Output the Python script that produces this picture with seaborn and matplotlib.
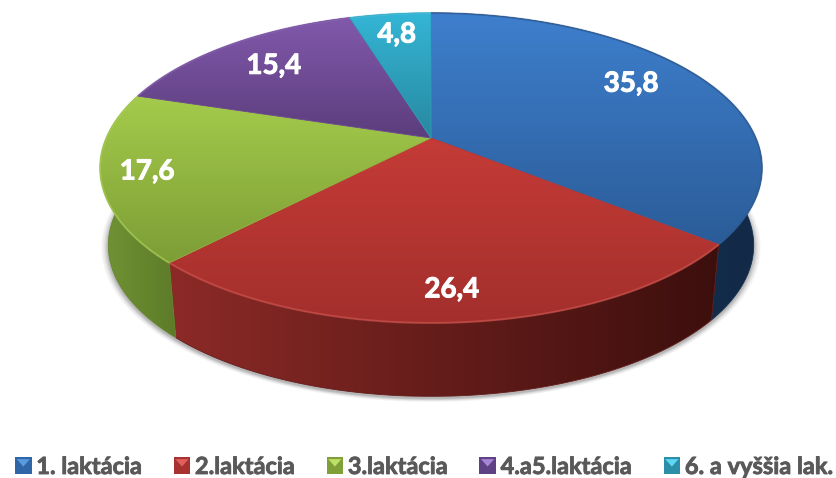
import matplotlib

matplotlib.use("Agg")
import matplotlib.patheffects as pe
import matplotlib.pyplot as plt
import numpy as np
import seaborn as sns
from matplotlib.legend_handler import HandlerPatch
from matplotlib.patches import Patch, Polygon

categories = ["1. laktácia", "2.laktácia", "3.laktácia", "4.a5.laktácia", "6. a vyššia lak."]
values = [35.8, 26.4, 17.6, 15.4, 4.8]
value_labels = ["35,8", "26,4", "17,6", "15,4", "4,8"]

# top face gradient (top, bottom), wall gradient (left, right), rim colour
top_colors = [("#3e7fcd", "#2b5c98"), ("#c53b37", "#a32f2c"), ("#a4cb4b", "#7d9d36"),
              ("#8259ac", "#5b3d7c"), ("#34b6d6", "#28889f")]
wall_colors = [("#16345a", "#122a47"), ("#8c2a27", "#3c0f0d"), ("#729434", "#5d7b29"),
               ("#4a3166", "#4a3166"), ("#1f6f85", "#1f6f85")]
rim_colors = ["#2a5488", "#d9625c", "#b5d964", "#9470bd", "#57c8e2"]
legend_colors = [("#2f66a8", "#5a9be0"), ("#a8322f", "#e0605c"), ("#7f9f38", "#bfe068"),
                 ("#5f4185", "#a884d4"), ("#2b8fa8", "#5fd8f5")]
label_radius = [0.77, 0.85, 0.865, 0.755, 0.81]
label_nudge = [-5, 0, 0, 0, 0]

CX, CY = 431, 138
SX, SY, PERSP = 324.7, 149.2, 0.1935
DEPTH, SHRINK = 78, 0.975


def project(theta, r=1.0, bottom=False):
    # clockwise from 12 o'clock, far side of the disc comes out smaller
    x = r * np.sin(theta)
    y = r * np.cos(theta)
    d = 1 + PERSP * y
    px, py = SX * x / d, -SY * y / d
    if bottom:
        return CX + SHRINK * px, CY + SHRINK * py + DEPTH
    return CX + px, CY + py


def gradient(ax, xy, colors, zorder, horizontal=False):
    cmap = sns.blend_palette(colors, as_cmap=True)
    ramp = np.linspace(0, 1, 256)
    ramp = ramp[None, :] if horizontal else ramp[:, None]
    x0, y0 = xy.min(axis=0)
    x1, y1 = xy.max(axis=0)
    im = ax.imshow(ramp, cmap=cmap, vmin=0, vmax=1, aspect="auto", origin="upper",
                   extent=(x0, x1, y1, y0), interpolation="bilinear", zorder=zorder)
    clip = Polygon(xy, closed=True, facecolor="none", edgecolor="none", transform=ax.transData)
    ax.add_patch(clip)
    im.set_clip_path(clip)
    # thin outline hides the aliased clip edge
    ax.add_patch(Polygon(xy, closed=True, facecolor="none", edgecolor=cmap(0.5), lw=0.6, zorder=zorder))


class BevelHandler(HandlerPatch):
    def create_artists(self, legend, orig, xd, yd, w, h, fontsize, trans):
        s = w
        x0, y0 = -xd, -yd + (h - s) / 2
        box = Polygon([(x0, y0), (x0 + s, y0), (x0 + s, y0 + s), (x0, y0 + s)],
                      facecolor=orig.get_facecolor(), edgecolor="none", transform=trans)
        tip = Polygon([(x0 + s * 0.1, y0 + s * 0.9), (x0 + s * 0.9, y0 + s * 0.9), (x0 + s / 2, y0 + s * 0.45)],
                      facecolor=orig.get_edgecolor(), edgecolor="none", transform=trans)
        return [box, tip]


sns.set_theme(style="white")
plt.rcParams["font.family"] = ["Lato", "DejaVu Sans"]

fig, ax = plt.subplots(figsize=(8.36, 4.78), dpi=100)
ax.set_position([0, 0, 1, 1])
ax.axis("off")

edges = np.deg2rad(np.cumsum([0] + values) / sum(values) * 360)
circle = np.linspace(0, 2 * np.pi, 361)

# soft shadow under the disc
bx, by = project(circle, bottom=True)
for grow, alpha in zip(np.linspace(1.022, 1.002, 8), [0.03] * 4 + [0.07] * 4):
    ax.fill(CX + (bx - CX) * grow, by + 2 + (by - by.mean()) * (grow - 1), color="#303030", alpha=alpha, lw=0,
            zorder=1)

for i in range(len(values)):
    th = np.linspace(edges[i], edges[i + 1], 120)
    tx, ty = project(th)
    ux, uy = project(th[::-1], bottom=True)
    gradient(ax, np.column_stack([np.r_[tx, ux], np.r_[ty, uy]]), wall_colors[i], 2, horizontal=True)

for i in range(len(values)):
    th = np.linspace(edges[i], edges[i + 1], 120)
    tx, ty = project(th)
    xy = np.column_stack([np.r_[CX, tx], np.r_[CY, ty]])
    gradient(ax, xy, top_colors[i], 3)
    ax.plot(tx, ty, color=rim_colors[i], lw=1.5, alpha=0.45, solid_capstyle="butt", zorder=4)

    mid = (edges[i] + edges[i + 1]) / 2 + np.deg2rad(label_nudge[i])
    lx, ly = project(mid, r=label_radius[i])
    ax.text(lx, ly, value_labels[i], color="white", fontsize=20, fontweight="bold", ha="center", va="center", zorder=5,
            path_effects=[pe.withStroke(linewidth=0.7, foreground="white")])

handles = [Patch(facecolor=c[0], edgecolor=c[1], label=name) for c, name in zip(legend_colors, categories)]
leg = ax.legend(handles=handles, ncol=5, loc="lower left", bbox_to_anchor=(0.018, 0.0), bbox_transform=fig.transFigure,
                frameon=False, borderpad=0, borderaxespad=0, labelcolor="#595959", columnspacing=1.34,
                handletextpad=0.2, handlelength=0.7, handler_map={Patch: BevelHandler()},
                prop={"family": "Lato", "weight": "bold", "size": 17})
for t in leg.get_texts():
    t.set_path_effects([pe.withStroke(linewidth=0.6, foreground="#595959")])

ax.set_xlim(0, 836)
ax.set_ylim(478, 0)
fig.savefig("out.png", dpi=100)
